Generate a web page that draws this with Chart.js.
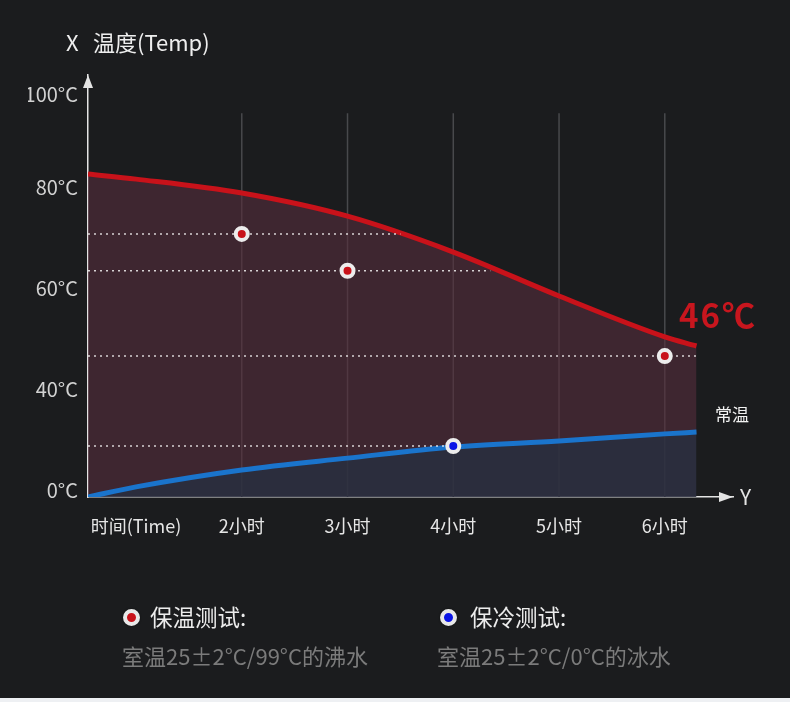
<!DOCTYPE html>
<html>
<head>
<meta charset="utf-8">
<script src="https://cdn.jsdelivr.net/npm/chart.js@4.4.1/dist/chart.umd.min.js"></script>
<style>
  html, body { margin: 0; padding: 0; background: #1b1c1e; }
  #wrap { position: relative; width: 790px; height: 702px; overflow: hidden; background: #1b1c1e;
          font-family: "Noto Sans CJK SC", "Noto Sans", sans-serif; }
  #wrap canvas { position: absolute; left: 0; top: 0; }
  .txt { position: absolute; white-space: nowrap; }
  .title { top: 26px; font-size: 22px; line-height: 30px; color: #eeeeee; }
  .head { top: 601px; font-size: 22.5px; line-height: 30px; color: #ececec; }
  .sub { top: 640px; font-size: 22px; line-height: 30px; color: #7b7b7b; }
  .dot { position: absolute; width: 9px; height: 9px; border: 4px solid #e8e8e8; border-radius: 50%;
         box-shadow: 0 0 2px rgba(0,0,0,0.6); }
  .strip { position: absolute; left: 0; top: 698px; width: 790px; height: 4px; background: #eef0f3; }
</style>
</head>
<body>
<div id="wrap">
  <canvas id="tempChart" width="790" height="702"></canvas>
  <div class="txt title" style="left:66px">X</div>
  <div class="txt title" style="left:93px">温度(Temp)</div>

  <div class="dot" style="left:123px; top:609px; background:#c8121a"></div>
  <div class="txt head" style="left:150px">保温测试:</div>
  <div class="txt sub" style="left:122px">室温25±2°C/99°C的沸水</div>

  <div class="dot" style="left:440px; top:609px; background:#0a14e6"></div>
  <div class="txt head" style="left:470px">保冷测试:</div>
  <div class="txt sub" style="left:437px">室温25±2°C/0°C的冰水</div>

  <div class="strip"></div>
</div>
<script>
// axis labels
const xTickHours = [1, 2, 3, 4, 5, 6];
const xTickLabels = ['时间(Time)', '2小时', '3小时', '4小时', '5小时', '6小时'];
const yTickTemps = [0, 40, 60, 80, 100];
const yTickLabels = ['0°C', '40°C', '60°C', '80°C', '100°C'];
// the printed temperature axis is not to scale, these are the steps it is drawn at
const yTickSteps = [0, 1, 2, 3, 3.92];

// curves (hours, °C)
const curveHours = [0.546, 1, 2, 3, 4, 5, 6, 6.3];
const hotTemps = [84.3, 83.2, 80.2, 75.6, 68.5, 59.8, 51.7, 49.9];
const coldTemps = [0, 4.0, 10.7, 15.4, 19.8, 22.2, 25.0, 25.7];

// measured points
const hotTestHours = [2, 3, 6];
const hotTestTemps = [72.1, 64.8, 47.9];
const coldTestHours = [4];
const coldTestTemps = [20.2];

// where each dotted guide stops (hours)
const guideEnds = [3.5, 4.35, 6.3, 4];
const guideTemps = [72.1, 64.8, 47.9, 20.2];

function toAxis(t) {
  for (let i = 0; i < yTickTemps.length - 1; i++) {
    if (t <= yTickTemps[i + 1] || i === yTickTemps.length - 2) {
      const f = (t - yTickTemps[i]) / (yTickTemps[i + 1] - yTickTemps[i]);
      return yTickSteps[i] + f * (yTickSteps[i + 1] - yTickSteps[i]);
    }
  }
  return 0;
}

const pts = (xs, ts) => xs.map((x, i) => ({ x: x, y: toAxis(ts[i]) }));

const FONT = '"Noto Sans CJK SC", "Noto Sans", sans-serif';

const guides = guideEnds.map((end, i) => ({
  data: [{ x: 0.546, y: toAxis(guideTemps[i]) }, { x: end, y: toAxis(guideTemps[i]) }],
  borderColor: 'rgba(255,255,255,0.8)',
  borderWidth: 1.5,
  borderDash: [2, 4],
  pointRadius: 0,
  fill: false,
  order: 1
}));

const extras = {
  id: 'extras',
  beforeDatasetsDraw(chart) {
    const ctx = chart.ctx, xs = chart.scales.x, ys = chart.scales.y;
    ctx.save();
    ctx.strokeStyle = '#48494c';
    ctx.lineWidth = 1.5;
    xTickHours.slice(1).forEach(h => {
      const x = xs.getPixelForValue(h);
      ctx.beginPath();
      ctx.moveTo(x, ys.getPixelForValue(3.8));
      ctx.lineTo(x, ys.getPixelForValue(0));
      ctx.stroke();
    });
    ctx.restore();
  },
  afterDraw(chart) {
    const ctx = chart.ctx, a = chart.chartArea;
    ctx.save();
    ctx.fillStyle = '#e4e4e4';
    // arrow heads
    ctx.beginPath();
    ctx.moveTo(a.left, a.top);
    ctx.lineTo(a.left - 5, a.top + 13);
    ctx.lineTo(a.left + 5, a.top + 13);
    ctx.closePath();
    ctx.fill();
    ctx.beginPath();
    ctx.moveTo(a.right, a.bottom);
    ctx.lineTo(a.right - 14, a.bottom - 5);
    ctx.lineTo(a.right - 14, a.bottom + 5);
    ctx.closePath();
    ctx.fill();

    ctx.textBaseline = 'middle';
    ctx.textAlign = 'left';
    ctx.font = '21px ' + FONT;
    ctx.fillText('Y', a.right + 7, a.bottom);

    ctx.fillStyle = '#f2f2f2';
    ctx.font = '17px ' + FONT;
    ctx.fillText('常温', 715, 415);

    ctx.fillStyle = '#c8161e';
    ctx.font = 'bold 33px ' + FONT;
    ctx.letterSpacing = '2px';
    ctx.fillText('46℃', 679, 315);
    ctx.restore();
  }
};

new Chart(document.getElementById('tempChart'), {
  type: 'line',
  data: {
    datasets: [
      {
        data: pts(hotTestHours, hotTestTemps),
        showLine: false,
        pointRadius: 6,
        pointBorderWidth: 4,
        pointBackgroundColor: '#c8121a',
        pointBorderColor: '#ececec',
        order: 0
      },
      {
        data: pts(coldTestHours, coldTestTemps),
        showLine: false,
        pointRadius: 6,
        pointBorderWidth: 4,
        pointBackgroundColor: '#0a14e6',
        pointBorderColor: '#ececec',
        order: 0
      },
      ...guides,
      {
        data: pts(curveHours, hotTemps),
        borderColor: '#c8121a',
        borderWidth: 5,
        pointRadius: 0,
        cubicInterpolationMode: 'monotone',
        fill: { target: 7 },
        backgroundColor: 'rgba(87,45,60,0.6)',
        order: 3
      },
      {
        data: pts(curveHours, coldTemps),
        borderColor: '#1a74cc',
        borderWidth: 5,
        pointRadius: 0,
        cubicInterpolationMode: 'monotone',
        fill: 'origin',
        backgroundColor: 'rgba(46,48,64,0.9)',
        order: 2
      }
    ]
  },
  options: {
    responsive: false,
    animation: false,
    layout: { padding: { left: 28, top: 75, right: 57, bottom: 150 } },
    plugins: { legend: { display: false }, tooltip: { enabled: false } },
    scales: {
      x: {
        type: 'linear',
        min: 0.546,
        max: 6.645,
        grid: { display: false, drawTicks: false },
        border: { display: true, color: '#e4e4e4', width: 1.5 },
        afterBuildTicks: s => { s.ticks = xTickHours.map(v => ({ value: v })); },
        afterFit: s => { s.height = 55; },
        ticks: {
          autoSkip: false,
          maxRotation: 0,
          padding: 18,
          color: '#e6e6e6',
          font: { family: FONT, size: 18 },
          callback: (v, i) => xTickLabels[i]
        }
      },
      y: {
        type: 'linear',
        min: 0,
        max: 4.178,
        grid: { display: false, drawTicks: false },
        border: { display: true, color: '#e4e4e4', width: 1.5 },
        afterBuildTicks: s => { s.ticks = yTickTemps.map(t => ({ value: toAxis(t) })); },
        afterFit: s => { s.width = 60; },
        ticks: {
          autoSkip: false,
          padding: 10,
          labelOffset: -7,
          color: '#d2d2d2',
          font: { family: FONT, size: 20 },
          callback: (v, i) => yTickLabels[i]
        }
      }
    }
  },
  plugins: [extras]
});
</script>
</body>
</html>
